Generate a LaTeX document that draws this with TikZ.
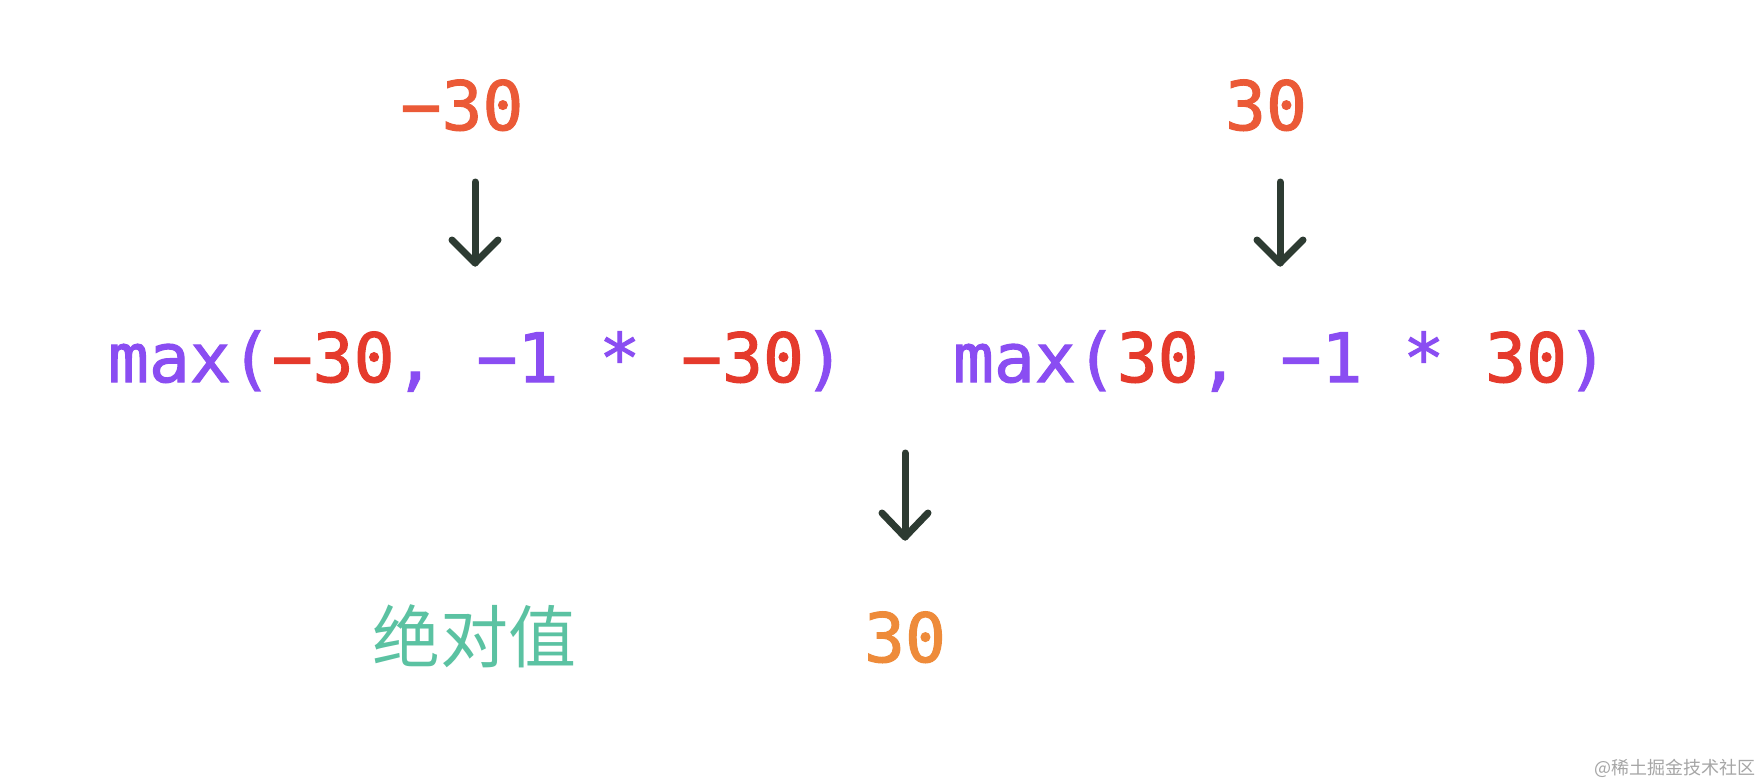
\documentclass[tikz,border=0pt]{standalone}
\usepackage{fontspec}
\newfontfamily\codefont[FakeBold=1.6]{DejaVu Sans Mono}
\newfontfamily\cjk{Noto Sans CJK SC}
\definecolor{fnpurple}{HTML}{8A4DF2}
\definecolor{numred}{HTML}{E53A2C}
\definecolor{inred}{HTML}{EB5A37}
\definecolor{outorange}{HTML}{EE8B3A}
\definecolor{labelteal}{HTML}{5BC2A2}
\definecolor{arrowdark}{HTML}{2D3B32}
\definecolor{markgray}{HTML}{A6A6A6}
\begin{document}
\begin{tikzpicture}[x=1pt,y=-1pt,
  code/.style={inner sep=0pt,outer sep=0pt,font=\codefont\fontsize{68}{68}\selectfont},
  label/.style={inner sep=0pt,outer sep=0pt,font=\cjk\fontsize{68}{68}\selectfont,text=labelteal},
  arr/.style={draw=arrowdark,line width=7pt,line cap=round,line join=round}]
\useasboundingbox[fill=white] (0,0) rectangle (1762,782);
% inputs
\node[code,anchor=base,text=inred] (inL) at (462,130) {−30};
\node[code,anchor=base,text=inred] (inR) at (1266,130) {30};
% expressions
\node[code,anchor=base west] (exL) at (108,382)
  {\color{fnpurple}max(\color{numred}−30\color{fnpurple}, −1 * \color{numred}−30\color{fnpurple})};
\node[code,anchor=base west] (exR) at (953,382)
  {\color{fnpurple}max(\color{numred}30\color{fnpurple}, −1 * \color{numred}30\color{fnpurple})};
% result
\node[label,anchor=base] (lab) at (474,662) {绝对值};
\node[code,anchor=base,text=outorange] (out) at (905,662) {30};
% arrows
\coordinate (a1s) at (475,182); \coordinate (a1e) at (475,263);
\coordinate (a2s) at (1280,182); \coordinate (a2e) at (1280,263);
\coordinate (a3s) at (905,453); \coordinate (a3e) at (905,537);
\draw[arr] (a1s) -- (a1e);
\draw[arr] (a1e) ++(-23,-23) -- (a1e) -- ++(23,-23);
\draw[arr] (a2s) -- (a2e);
\draw[arr] (a2e) ++(-23,-23) -- (a2e) -- ++(23,-23);
\draw[arr] (a3s) -- (a3e);
\draw[arr] (a3e) ++(-23,-24) -- (a3e) -- ++(23,-24);
% watermark
\node[inner sep=0pt,anchor=base east,text=markgray,font=\cjk\fontsize{18}{18}\selectfont] (wm) at (1756,774) {@稀土掘金技术社区};
\end{tikzpicture}
\end{document}
